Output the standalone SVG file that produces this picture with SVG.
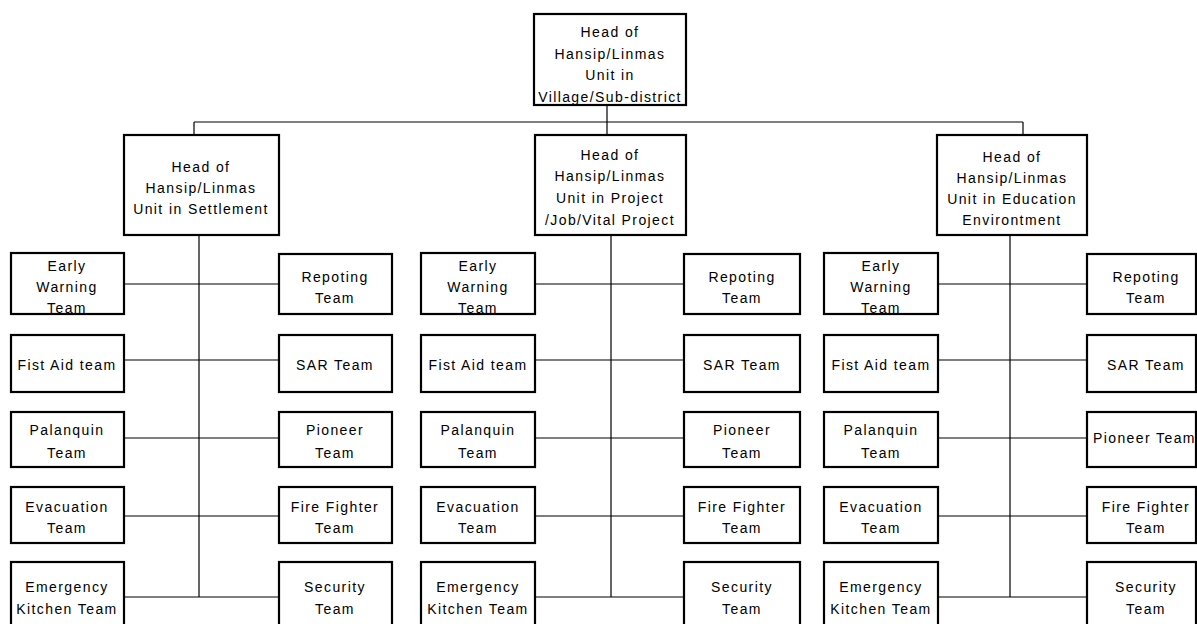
<svg xmlns="http://www.w3.org/2000/svg" width="1197" height="624" viewBox="0 0 1197 624">
  <style>
    .box { fill: #ffffff; stroke: #000000; stroke-width: 2.2; }
    .conn { fill: none; stroke: #000000; stroke-width: 1.2; }
    text { font-family: "Liberation Sans", Arial, sans-serif; font-size: 14px; letter-spacing: 1.4px; fill: #000000; text-anchor: middle; }
  </style>
  <rect width="1197" height="624" fill="#ffffff"/>

  <!-- connectors -->
  <g id="connectors">
    <path class="conn" d="M607 105V122M194 122H1023M194 122V135M607 122V135M1023 122V135"/>
    <!-- settlement group -->
    <path class="conn" d="M199 235V597M124 284H279M124 360H279M124 438H279M124 516H279M124 597H279"/>
    <!-- project group -->
    <path class="conn" d="M611 235V597M535 284H684M535 360H684M535 438H684M535 516H684M535 597H684"/>
    <!-- education group -->
    <path class="conn" d="M1010 235V597M938 284H1087M938 360H1087M938 438H1087M938 516H1087M938 597H1087"/>
  </g>

  <!-- top node -->
  <g id="head-village">
    <rect class="box" x="534" y="14" width="152" height="91"/>
    <text x="610" y="37">Head of</text>
    <text x="610" y="58.5">Hansip/Linmas</text>
    <text x="610" y="80">Unit in</text>
    <text x="610" y="101.5">Village/Sub-district</text>
  </g>

  <!-- second level -->
  <g id="head-settlement">
    <rect class="box" x="124" y="135" width="155" height="100"/>
    <text x="201" y="172">Head of</text>
    <text x="201" y="193">Hansip/Linmas</text>
    <text x="201" y="214">Unit in Settlement</text>
  </g>
  <g id="head-project">
    <rect class="box" x="535" y="135" width="151" height="100"/>
    <text x="610" y="160">Head of</text>
    <text x="610" y="181">Hansip/Linmas</text>
    <text x="610" y="203">Unit in Project</text>
    <text x="610" y="225">/Job/Vital Project</text>
  </g>
  <g id="head-education">
    <rect class="box" x="937" y="135" width="150" height="100"/>
    <text x="1012" y="162">Head of</text>
    <text x="1012" y="183">Hansip/Linmas</text>
    <text x="1012" y="204">Unit in Education</text>
    <text x="1012" y="225">Environtment</text>
  </g>

  <!-- settlement teams -->
  <g id="s-early"><rect class="box" x="11" y="253" width="113" height="61"/><text x="67" y="271">Early</text><text x="67" y="292">Warning</text><text x="67" y="313">Team</text></g>
  <g id="s-report"><rect class="box" x="279" y="254" width="113" height="60"/><text x="335" y="282">Repoting</text><text x="335" y="303">Team</text></g>
  <g id="s-firstaid"><rect class="box" x="11" y="335" width="113" height="57"/><text x="67" y="370">Fist Aid team</text></g>
  <g id="s-sar"><rect class="box" x="279" y="335" width="113" height="57"/><text x="335" y="370">SAR Team</text></g>
  <g id="s-palanquin"><rect class="box" x="11" y="412" width="113" height="55"/><text x="67" y="435">Palanquin</text><text x="67" y="458">Team</text></g>
  <g id="s-pioneer"><rect class="box" x="279" y="412" width="113" height="55"/><text x="335" y="435">Pioneer</text><text x="335" y="458">Team</text></g>
  <g id="s-evacuation"><rect class="box" x="11" y="487" width="113" height="56"/><text x="67" y="512">Evacuation</text><text x="67" y="533">Team</text></g>
  <g id="s-fire"><rect class="box" x="279" y="487" width="113" height="56"/><text x="335" y="512">Fire Fighter</text><text x="335" y="533">Team</text></g>
  <g id="s-kitchen"><rect class="box" x="11" y="562" width="113" height="80"/><text x="67" y="592">Emergency</text><text x="67" y="614">Kitchen Team</text></g>
  <g id="s-security"><rect class="box" x="279" y="562" width="113" height="80"/><text x="335" y="592">Security</text><text x="335" y="614">Team</text></g>

  <!-- project teams -->
  <g id="p-early"><rect class="box" x="421" y="253" width="114" height="61"/><text x="478" y="271">Early</text><text x="478" y="292">Warning</text><text x="478" y="313">Team</text></g>
  <g id="p-report"><rect class="box" x="684" y="254" width="116" height="60"/><text x="742" y="282">Repoting</text><text x="742" y="303">Team</text></g>
  <g id="p-firstaid"><rect class="box" x="421" y="335" width="114" height="57"/><text x="478" y="370">Fist Aid team</text></g>
  <g id="p-sar"><rect class="box" x="684" y="335" width="116" height="57"/><text x="742" y="370">SAR Team</text></g>
  <g id="p-palanquin"><rect class="box" x="421" y="412" width="114" height="55"/><text x="478" y="435">Palanquin</text><text x="478" y="458">Team</text></g>
  <g id="p-pioneer"><rect class="box" x="684" y="412" width="116" height="55"/><text x="742" y="435">Pioneer</text><text x="742" y="458">Team</text></g>
  <g id="p-evacuation"><rect class="box" x="421" y="487" width="114" height="56"/><text x="478" y="512">Evacuation</text><text x="478" y="533">Team</text></g>
  <g id="p-fire"><rect class="box" x="684" y="487" width="116" height="56"/><text x="742" y="512">Fire Fighter</text><text x="742" y="533">Team</text></g>
  <g id="p-kitchen"><rect class="box" x="421" y="562" width="114" height="80"/><text x="478" y="592">Emergency</text><text x="478" y="614">Kitchen Team</text></g>
  <g id="p-security"><rect class="box" x="684" y="562" width="116" height="80"/><text x="742" y="592">Security</text><text x="742" y="614">Team</text></g>

  <!-- education teams -->
  <g id="e-early"><rect class="box" x="824" y="253" width="114" height="61"/><text x="881" y="271">Early</text><text x="881" y="292">Warning</text><text x="881" y="313">Team</text></g>
  <g id="e-report"><rect class="box" x="1087" y="254" width="109" height="60"/><text x="1146" y="282">Repoting</text><text x="1146" y="303">Team</text></g>
  <g id="e-firstaid"><rect class="box" x="824" y="335" width="114" height="57"/><text x="881" y="370">Fist Aid team</text></g>
  <g id="e-sar"><rect class="box" x="1087" y="335" width="109" height="57"/><text x="1146" y="370">SAR Team</text></g>
  <g id="e-palanquin"><rect class="box" x="824" y="412" width="114" height="55"/><text x="881" y="435">Palanquin</text><text x="881" y="458">Team</text></g>
  <g id="e-pioneer"><rect class="box" x="1087" y="412" width="109" height="55"/><text x="1093" y="443" style="text-anchor:start">Pioneer Team</text></g>
  <g id="e-evacuation"><rect class="box" x="824" y="487" width="114" height="56"/><text x="881" y="512">Evacuation</text><text x="881" y="533">Team</text></g>
  <g id="e-fire"><rect class="box" x="1087" y="487" width="109" height="56"/><text x="1146" y="512">Fire Fighter</text><text x="1146" y="533">Team</text></g>
  <g id="e-kitchen"><rect class="box" x="824" y="562" width="114" height="80"/><text x="881" y="592">Emergency</text><text x="881" y="614">Kitchen Team</text></g>
  <g id="e-security"><rect class="box" x="1087" y="562" width="109" height="80"/><text x="1146" y="592">Security</text><text x="1146" y="614">Team</text></g>
</svg>
